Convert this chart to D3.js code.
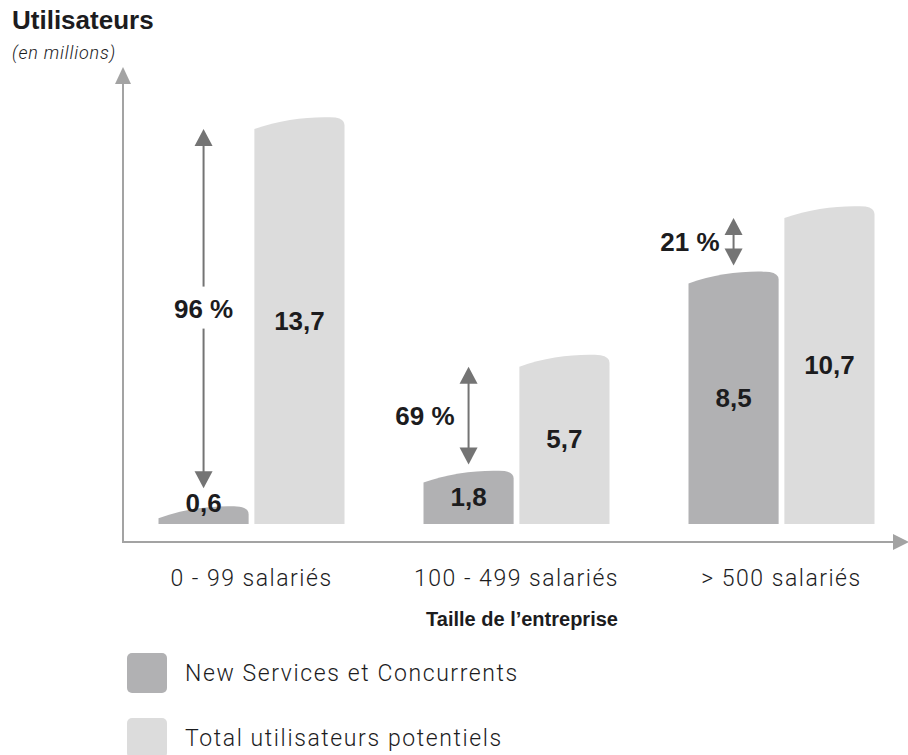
<!DOCTYPE html>
<html>
<head>
<meta charset="utf-8">
<script src="https://cdn.jsdelivr.net/npm/d3@7/dist/d3.min.js"></script>
<style>
  html, body { margin: 0; padding: 0; background: #fff; }
  svg { display: block; }
  text { font-family: "Liberation Sans", Arial, Helvetica, sans-serif; }
  text.light { font-family: Roboto, "Liberation Sans", Arial, sans-serif; font-weight: 300; }
</style>
</head>
<body>
<svg id="chart" width="908" height="755"></svg>
<script>
// Company size categories
const categories = ["0 - 99 salariés", "100 - 499 salariés", "> 500 salariés"];
// Users, in millions
const newServices = [0.6, 1.8, 8.5];
const totalPotential = [13.7, 5.7, 10.7];
// Share of potential users not yet reached
const gapLabels = ["96 %", "69 %", "21 %"];
const seriesNames = ["New Services et Concurrents", "Total utilisateurs potentiels"];

const colors = { dark: "#b1b1b3", light: "#dcdcdc", axis: "#a3a3a3", arrow: "#747474", text: "#1c1c1e" };

const svg = d3.select("#chart");
const base = 524, axisY = 542, axisX = 123;

const y = d3.scaleLinear().domain([0, 13.7]).range([base, 117]);
const x0 = d3.scaleBand().domain(categories).range([119, 914]).paddingInner(0).paddingOuter(0);
const groupW = 186;
const x1 = d3.scaleBand().domain(["ns", "tot"]).range([0, groupW]).paddingInner(0.06);

const fmt = v => v.toFixed(1).replace(".", ",");

// Bar with a gently curved top, higher on the right, rounded right shoulder
function barPath(xl, w, top) {
  const lY = Math.min(top + 12, base), rY = Math.min(top + 8, base);
  const xr = xl + w;
  return `M${xl},${base} L${xl},${lY} C${xl + w * 0.3},${top + 2} ${xl + w * 0.65},${top - 1} ${xr - 9},${top + 0.5}` +
         ` Q${xr},${top + 2} ${xr},${rY} L${xr},${base} Z`;
}

// Axes
svg.append("line").attr("x1", axisX).attr("x2", axisX).attr("y1", axisY).attr("y2", 80)
  .attr("stroke", colors.axis).attr("stroke-width", 2);
svg.append("path").attr("d", `M${axisX},67 L${axisX - 8},84 L${axisX + 8},84 Z`).attr("fill", colors.axis);
svg.append("line").attr("x1", axisX - 1).attr("x2", 896).attr("y1", axisY).attr("y2", axisY)
  .attr("stroke", colors.axis).attr("stroke-width", 2);
svg.append("path").attr("d", `M909,${axisY} L893,${axisY - 8} L893,${axisY + 8} Z`).attr("fill", colors.axis);

// Titles
svg.append("text").attr("x", 12).attr("y", 29).attr("font-size", 26).attr("font-weight", "bold")
  .attr("fill", colors.text).text("Utilisateurs");
svg.append("text").attr("class", "light").attr("x", 12).attr("y", 59).attr("font-size", 18).attr("font-style", "italic")
  .attr("fill", colors.text).attr("letter-spacing", 0.8).text("(en millions)");

const groups = svg.selectAll("g.grp").data(categories).join("g").attr("class", "grp")
  .attr("transform", d => `translate(${x0(d) + (x0.bandwidth() - groupW) / 2},0)`);

groups.each(function (cat, i) {
  const g = d3.select(this);
  const ns = newServices[i], tot = totalPotential[i];
  const xd = x1("ns"), xt = x1("tot"), w = x1.bandwidth();
  const yd = y(ns), yt = y(tot);

  g.append("path").attr("d", barPath(xd, w, yd)).attr("fill", colors.dark);
  g.append("path").attr("d", barPath(xt, w, yt)).attr("fill", colors.light);

  // value labels
  g.append("text").attr("x", xt + w / 2).attr("y", (yt + base) / 2 + 9)
    .attr("text-anchor", "middle").attr("font-size", 26).attr("font-weight", "bold")
    .attr("fill", colors.text).text(fmt(tot));
  const darkInside = base - yd > 40;
  const dLabelY = darkInside ? (yd + base) / 2 + 9 : yd + 6;
  g.append("text").attr("x", xd + w / 2).attr("y", dLabelY)
    .attr("text-anchor", "middle").attr("font-size", 26).attr("font-weight", "bold")
    .attr("fill", colors.text).text(fmt(ns));

  // double arrow between the two bar tops
  const ax = xd + w / 2;
  const aTop = yt + 12;
  const aBot = darkInside ? yd - 6 : dLabelY - 24;
  const head = 17, hw = 9;
  const span = aBot - aTop;
  const a = g.append("g").attr("fill", colors.arrow).attr("stroke", colors.arrow);
  a.append("path").attr("d", `M${ax},${aTop} L${ax - hw},${aTop + head} L${ax + hw},${aTop + head} Z`).attr("stroke", "none");
  a.append("path").attr("d", `M${ax},${aBot} L${ax - hw},${aBot - head} L${ax + hw},${aBot - head} Z`).attr("stroke", "none");
  const mid = (aTop + aBot) / 2;
  if (span > 110) {
    a.append("line").attr("x1", ax).attr("x2", ax).attr("y1", aTop + head - 1).attr("y2", mid - 22).attr("stroke-width", 2);
    a.append("line").attr("x1", ax).attr("x2", ax).attr("y1", mid + 20).attr("y2", aBot - head + 1).attr("stroke-width", 2);
    g.append("text").attr("x", ax).attr("y", mid + 9).attr("text-anchor", "middle")
      .attr("font-size", 26).attr("font-weight", "bold").attr("fill", colors.text).text(gapLabels[i]);
  } else {
    a.append("line").attr("x1", ax).attr("x2", ax).attr("y1", aTop + head - 1).attr("y2", aBot - head + 1).attr("stroke-width", 2);
    g.append("text").attr("x", ax - 14).attr("y", mid + 9).attr("text-anchor", "end")
      .attr("font-size", 26).attr("font-weight", "bold").attr("fill", colors.text).text(gapLabels[i]);
  }

  // category label
  g.append("text").attr("class", "light").attr("x", groupW / 2).attr("y", 586).attr("text-anchor", "middle")
    .attr("font-size", 23).attr("letter-spacing", 1.5).attr("fill", colors.text).text(cat);
});

svg.append("text").attr("x", 522).attr("y", 626).attr("text-anchor", "middle")
  .attr("font-size", 20).attr("font-weight", "bold").attr("fill", colors.text).text("Taille de l’entreprise");

// Legend
const legend = svg.selectAll("g.leg").data(seriesNames).join("g").attr("class", "leg")
  .attr("transform", (d, i) => `translate(127,${653 + i * 65})`);
legend.append("rect").attr("width", 40).attr("height", 40).attr("rx", 5)
  .attr("fill", (d, i) => i === 0 ? colors.dark : colors.light);
legend.append("text").attr("class", "light").attr("x", 58).attr("y", 28).attr("font-size", 23).attr("letter-spacing", 1.6)
  .attr("fill", colors.text).text(d => d);
</script>
</body>
</html>
